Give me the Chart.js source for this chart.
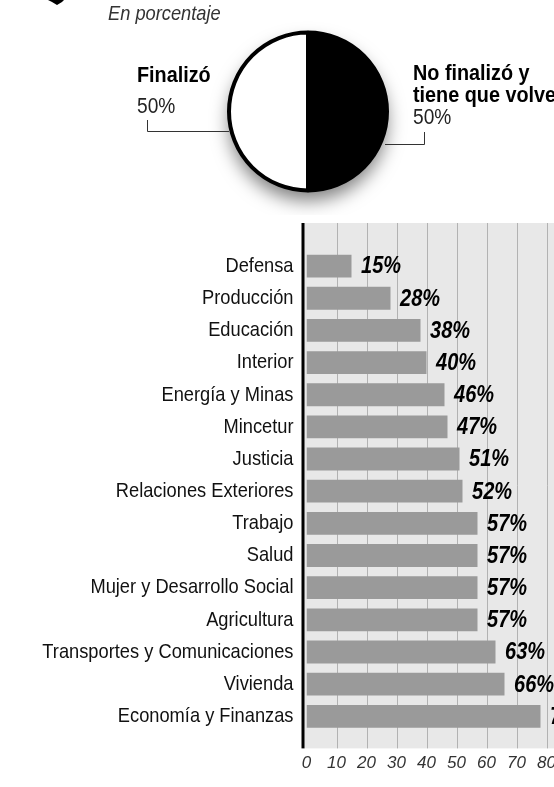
<!DOCTYPE html>
<html>
<head>
<meta charset="utf-8">
<script src="https://cdn.jsdelivr.net/npm/chart.js@4.4.0/dist/chart.umd.min.js"></script>
<style>
  html, body { margin: 0; padding: 0; background: #fff; }
  #wrap { position: relative; width: 554px; height: 787px; overflow: hidden; }
  #pie { position: absolute; left: 0; top: 0; }
  #barras { position: absolute; left: 0; top: 215px; }
</style>
</head>
<body>
<div id="wrap">
  <canvas id="pie" width="554" height="215"></canvas>
  <canvas id="barras" width="554" height="572"></canvas>
</div>
<script>
// Datos
const subtitulo = 'En porcentaje';
const estados = ['Finalizó', 'No finalizó y tiene que volver'];
const estadosValores = [50, 50];

const sectores = [
  'Defensa', 'Producción', 'Educación', 'Interior', 'Energía y Minas',
  'Mincetur', 'Justicia', 'Relaciones Exteriores', 'Trabajo', 'Salud',
  'Mujer y Desarrollo Social', 'Agricultura', 'Transportes y Comunicaciones',
  'Vivienda', 'Economía y Finanzas'
];
const porcentajes = [15, 28, 38, 40, 46, 47, 51, 52, 57, 57, 57, 57, 63, 66, 78];
const ticksX = [0, 10, 20, 30, 40, 50, 60, 70, 80];

const FUENTE = "'Liberation Sans', Arial, sans-serif";

// texto condensado a mano (no hay fuentes angostas instaladas)
function textoAngosto(ctx, str, x, y, font, factor = 0.87) {
  ctx.save();
  ctx.translate(x, y);
  ctx.scale(factor, 1);
  ctx.font = font;
  ctx.fillText(str, 0, 0);
  ctx.restore();
}

// Sombra bajo el pie
const sombraPie = {
  id: 'sombraPie',
  beforeDatasetsDraw(chart) {
    const arco = chart.getDatasetMeta(0).data[0];
    const ctx = chart.ctx;
    ctx.save();
    ctx.shadowColor = 'rgba(0,0,0,0.5)';
    ctx.shadowBlur = 18;
    ctx.shadowOffsetY = 10;
    ctx.fillStyle = '#fff';
    ctx.beginPath();
    ctx.arc(arco.x, arco.y, arco.outerRadius, 0, Math.PI * 2);
    ctx.fill();
    ctx.restore();
  }
};

// Rótulos y líneas guía del pie
const rotulosPie = {
  id: 'rotulosPie',
  afterDraw(chart) {
    const ctx = chart.ctx;
    ctx.save();
    // fragmento de ícono arriba a la izquierda
    ctx.fillStyle = '#000';
    ctx.beginPath();
    ctx.moveTo(48, 0); ctx.lineTo(64, 0); ctx.lineTo(62, 2);
    ctx.lineTo(57, 5); ctx.lineTo(52, 2); ctx.closePath();
    ctx.fill();

    ctx.textBaseline = 'alphabetic';
    ctx.fillStyle = '#333';
    textoAngosto(ctx, subtitulo, 108, 20, 'italic 21px ' + FUENTE);

    ctx.fillStyle = '#000';
    const negrita = 'bold 22px ' + FUENTE;
    textoAngosto(ctx, estados[0], 137, 82, negrita, 0.9);
    textoAngosto(ctx, 'No finalizó y', 413, 80, negrita, 0.9);
    textoAngosto(ctx, 'tiene que volver', 413, 102, negrita, 0.9);
    ctx.fillStyle = '#222';
    textoAngosto(ctx, estadosValores[0] + '%', 137, 113, '22px ' + FUENTE);
    textoAngosto(ctx, estadosValores[1] + '%', 413, 124, '22px ' + FUENTE);

    ctx.strokeStyle = '#333';
    ctx.lineWidth = 1;
    ctx.beginPath();
    ctx.moveTo(147.5, 120); ctx.lineTo(147.5, 131.5); ctx.lineTo(229, 131.5);
    ctx.moveTo(385, 144.5); ctx.lineTo(424.5, 144.5); ctx.lineTo(424.5, 132);
    ctx.stroke();
    ctx.restore();
  }
};

new Chart(document.getElementById('pie'), {
  type: 'pie',
  data: {
    labels: estados,
    datasets: [{
      data: estadosValores,
      backgroundColor: ['#ffffff', '#000000'],
      borderColor: '#000',
      borderWidth: 4
    }]
  },
  options: {
    responsive: false,
    animation: false,
    rotation: 180,
    layout: { padding: { left: 227, right: 165, top: 30, bottom: 22 } },
    plugins: { legend: { display: false }, tooltip: { enabled: false } }
  },
  plugins: [sombraPie, rotulosPie]
});

// Fondo gris, líneas de grilla y eje negro
const fondoBarras = {
  id: 'fondoBarras',
  beforeDatasetsDraw(chart) {
    const { ctx, chartArea, scales: { x } } = chart;
    const arriba = chartArea.top - 27;
    const abajo = chartArea.bottom + 16;
    ctx.save();
    ctx.fillStyle = '#e8e8e8';
    ctx.fillRect(chartArea.left - 3, arriba, chart.width - chartArea.left + 3, abajo - arriba);
    ctx.strokeStyle = '#b2b2b2';
    ctx.lineWidth = 1;
    ticksX.forEach(v => {
      if (v === 0) return;
      const px = Math.round(x.getPixelForValue(v)) + 0.5;
      ctx.beginPath();
      ctx.moveTo(px, arriba);
      ctx.lineTo(px, abajo);
      ctx.stroke();
    });
    ctx.fillStyle = '#000';
    ctx.fillRect(chartArea.left - 5, arriba, 3, abajo - arriba);
    ctx.restore();
  }
};

// Valores al final de cada barra y nombres de sectores (condensados)
const rotulosBarras = {
  id: 'rotulosBarras',
  afterDatasetsDraw(chart) {
    const { ctx, chartArea, scales: { y } } = chart;
    ctx.save();
    ctx.fillStyle = '#000';
    ctx.textBaseline = 'middle';
    chart.getDatasetMeta(0).data.forEach((barra, i) => {
      textoAngosto(ctx, porcentajes[i] + '%', barra.x + 9.5, barra.y + 1, 'italic bold 23px ' + FUENTE);
    });
    ctx.fillStyle = '#111';
    ctx.textAlign = 'right';
    y.ticks.forEach((t, i) => {
      textoAngosto(ctx, sectores[i], chartArea.left - 13, y.getPixelForTick(i), '21px ' + FUENTE);
    });
    ctx.restore();
  }
};

new Chart(document.getElementById('barras'), {
  type: 'bar',
  data: {
    labels: sectores,
    datasets: [{
      data: porcentajes,
      backgroundColor: '#9a9a9a',
      barPercentage: 0.71,
      categoryPercentage: 1
    }]
  },
  options: {
    indexAxis: 'y',
    responsive: false,
    animation: false,
    layout: { padding: { top: 35, right: 7.5, left: 0, bottom: 0 } },
    scales: {
      x: {
        min: 0,
        max: 80,
        afterBuildTicks: s => { s.ticks = ticksX.map(v => ({ value: v })); },
        afterFit: s => { s.height = 54.6; },
        grid: { display: false, drawTicks: true, tickLength: 23 },
        border: { display: false },
        ticks: {
          padding: -2.5,
          color: '#333',
          font: { family: FUENTE, size: 17, style: 'italic' }
        }
      },
      y: {
        afterFit: s => { s.width = 306.5; },
        grid: { display: false, drawTicks: false },
        border: { display: false },
        ticks: {
          padding: 13,
          color: 'rgba(0,0,0,0)',
          font: { family: FUENTE, size: 18 }
        }
      }
    },
    plugins: { legend: { display: false }, tooltip: { enabled: false } }
  },
  plugins: [fondoBarras, rotulosBarras]
});
</script>
</body>
</html>
